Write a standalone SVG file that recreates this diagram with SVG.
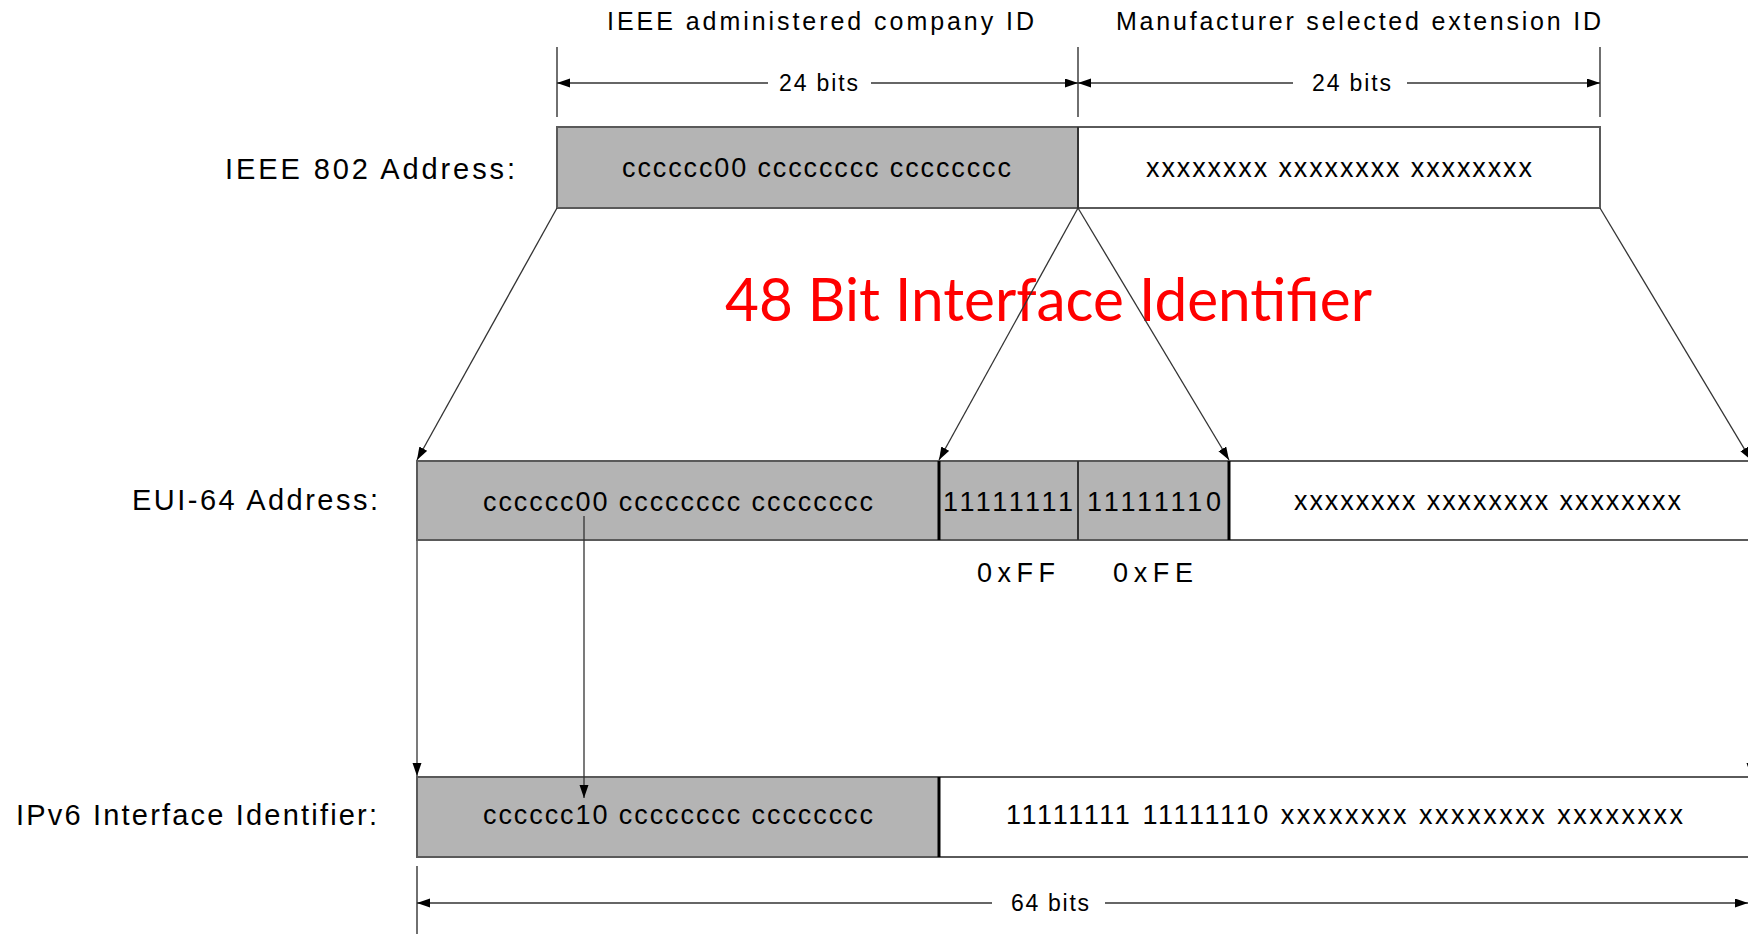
<svg xmlns="http://www.w3.org/2000/svg" width="1748" height="934" viewBox="0 0 1748 934">
  <style>
    .lbl { font-family: "Liberation Sans", Arial, sans-serif; font-size: 29px; fill: #000; }
    .ttl { font-family: "Liberation Sans", Arial, sans-serif; font-size: 25px; fill: #000; }
    .dim { font-family: "Liberation Sans", Arial, sans-serif; font-size: 23px; fill: #000; }
    .bits { font-family: "Liberation Sans", Arial, sans-serif; font-size: 27px; fill: #000; }
    .gray { fill: #b4b4b4; }
    .white { fill: #ffffff; }
    .frame { fill: none; stroke: #5a5a5a; stroke-width: 2; }
    .div { stroke: #000; stroke-width: 3; }
    .divthin { stroke: #333; stroke-width: 2; }
    .conn { stroke: #333; stroke-width: 1.3; fill: none; }
    .tick { stroke: #222; stroke-width: 1.3; }
    .big { font-family: Lato, "Open Sans", sans-serif; font-size: 60px; fill: #ff0000; }
  </style>
  <defs>
    <marker id="ah" markerUnits="userSpaceOnUse" markerWidth="14" markerHeight="10" refX="13" refY="4.5" orient="auto-start-reverse">
      <path d="M0,0 L13,4.5 L0,9 z" fill="#000"/>
    </marker>
  </defs>

  <rect width="1748" height="934" fill="#ffffff"/>

  <!-- field titles and 24-bit dimensions -->
  <g id="titles">
    <text class="ttl" x="607" y="30" textLength="427">IEEE administered company ID</text>
    <text class="ttl" x="1116" y="30" textLength="485">Manufacturer selected extension ID</text>
  </g>
  <g id="dim24">
    <line class="tick" x1="557" y1="47" x2="557" y2="117"/>
    <line class="tick" x1="1078" y1="47" x2="1078" y2="117"/>
    <line class="tick" x1="1600" y1="47" x2="1600" y2="117"/>
    <line class="conn" x1="557" y1="83" x2="768" y2="83" marker-start="url(#ah)"/>
    <line class="conn" x1="871" y1="83" x2="1078" y2="83" marker-end="url(#ah)"/>
    <line class="conn" x1="1078" y1="83" x2="1293" y2="83" marker-start="url(#ah)"/>
    <line class="conn" x1="1407" y1="83" x2="1600" y2="83" marker-end="url(#ah)"/>
    <text class="dim" x="779" y="91" textLength="79">24 bits</text>
    <text class="dim" x="1312" y="91" textLength="79">24 bits</text>
  </g>

  <!-- IEEE 802 address row -->
  <g id="ieee802">
    <text class="lbl" x="225" y="179" textLength="290">IEEE 802 Address:</text>
    <rect class="gray" x="557" y="127" width="521" height="81"/>
    <rect class="white" x="1078" y="127" width="522" height="81"/>
    <rect class="frame" x="557" y="127" width="1043" height="81"/>
    <line class="divthin" x1="1078" y1="127" x2="1078" y2="208"/>
    <text class="bits" x="622" y="177" textLength="389">cccccc00 cccccccc cccccccc</text>
    <text class="bits" x="1146" y="177" textLength="386">xxxxxxxx xxxxxxxx xxxxxxxx</text>
  </g>

  <!-- caption -->
  <g id="caption">
    <text class="big" x="725" y="321" textLength="647" lengthAdjust="spacingAndGlyphs">48 Bit Interface Identifier</text>
  </g>

  <!-- EUI-64 row -->
  <g id="eui64">
    <text class="lbl" x="132" y="510" textLength="246">EUI-64 Address:</text>
    <rect class="gray" x="417" y="461" width="812" height="79"/>
    <rect class="white" x="1229" y="461" width="530" height="79"/>
    <rect class="frame" x="417" y="461" width="1345" height="79"/>
    <line class="div" x1="939" y1="461" x2="939" y2="540"/>
    <line class="divthin" x1="1078" y1="461" x2="1078" y2="540"/>
    <line class="div" x1="1229" y1="461" x2="1229" y2="540"/>
    <text class="bits" x="483" y="511" textLength="390">cccccc00 cccccccc cccccccc</text>
    <text class="bits" x="943" y="511" textLength="130">11111111</text>
    <text class="bits" x="1087" y="511" textLength="134">11111110</text>
    <text class="bits" x="1294" y="510" textLength="387">xxxxxxxx xxxxxxxx xxxxxxxx</text>
    <text class="bits" x="977" y="582" textLength="78">0xFF</text>
    <text class="bits" x="1113" y="582" textLength="80">0xFE</text>
  </g>

  <!-- IPv6 interface identifier row -->
  <g id="ipv6">
    <text class="lbl" x="16" y="825" textLength="361">IPv6 Interface Identifier:</text>
    <rect class="gray" x="417" y="777" width="522" height="80"/>
    <rect class="white" x="939" y="777" width="820" height="80"/>
    <rect class="frame" x="417" y="777" width="1345" height="80"/>
    <line class="div" x1="939" y1="777" x2="939" y2="857"/>
    <text class="bits" x="483" y="824" textLength="390">cccccc10 cccccccc cccccccc</text>
    <text class="bits" x="1006" y="824" textLength="677">11111111 11111110 xxxxxxxx xxxxxxxx xxxxxxxx</text>
  </g>

  <!-- 64-bit dimension -->
  <g id="dim64">
    <line class="tick" x1="417" y1="866" x2="417" y2="934"/>
    <line class="conn" x1="417" y1="903" x2="992" y2="903" marker-start="url(#ah)"/>
    <line class="conn" x1="1105" y1="903" x2="1748" y2="903" marker-end="url(#ah)"/>
    <text class="dim" x="1011" y="911" textLength="78">64 bits</text>
  </g>

  <!-- mapping connectors -->
  <g id="connectors">
    <line class="conn" x1="557" y1="208" x2="417" y2="460" marker-end="url(#ah)"/>
    <line class="conn" x1="1078" y1="208" x2="939" y2="460" marker-end="url(#ah)"/>
    <line class="conn" x1="1078" y1="208" x2="1229" y2="460" marker-end="url(#ah)"/>
    <line class="conn" x1="1600" y1="208" x2="1751" y2="460" marker-end="url(#ah)"/>
    <line class="conn" x1="417" y1="541" x2="417" y2="776" marker-end="url(#ah)"/>
    <line class="conn" x1="584" y1="516" x2="584" y2="798" marker-end="url(#ah)"/>
    <line class="conn" x1="1751" y1="541" x2="1751" y2="776" marker-end="url(#ah)"/>
  </g>
</svg>
